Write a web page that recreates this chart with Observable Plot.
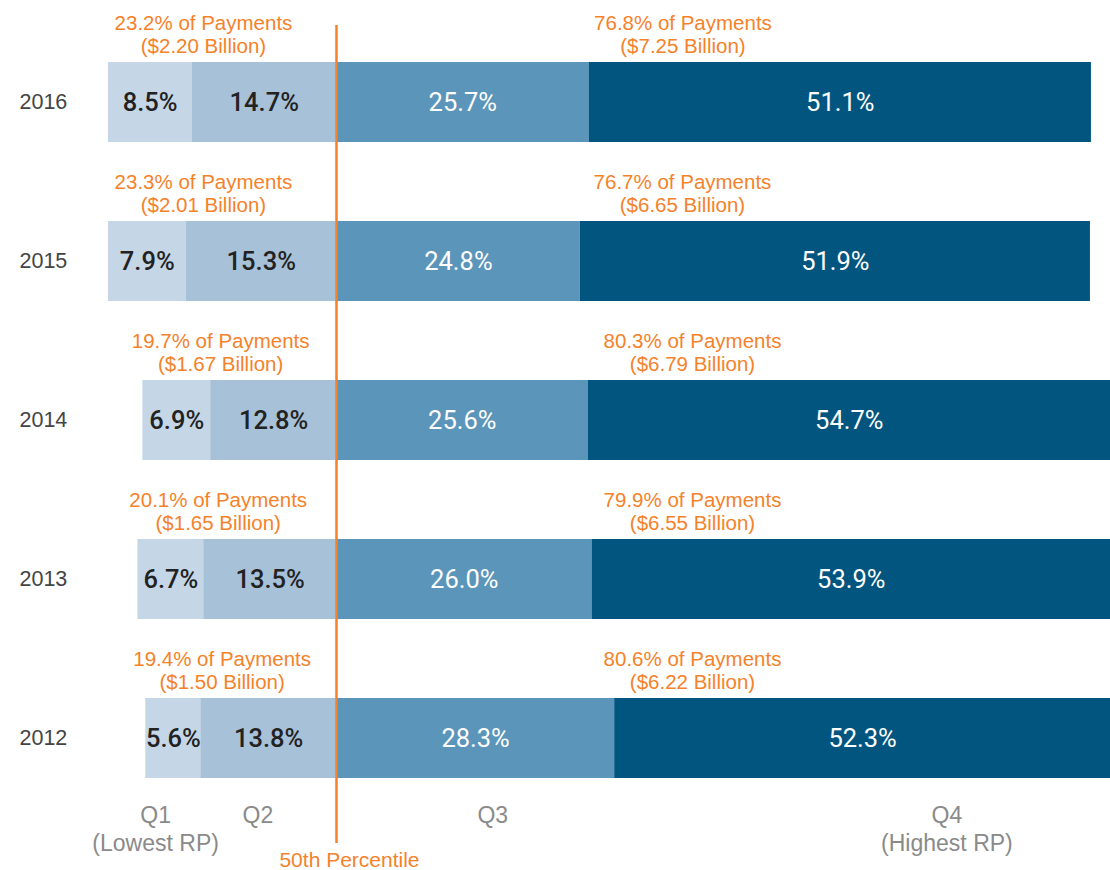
<!DOCTYPE html>
<html><head><meta charset="utf-8">
<script src="https://cdn.jsdelivr.net/npm/d3@7"></script>
<script src="https://cdn.jsdelivr.net/npm/@observablehq/plot@0.6"></script>
<style>body{margin:0;background:#fff} svg{display:block;overflow:hidden}</style>
</head><body><div id="chart"></div>
<script>
const years = ["2016", "2015", "2014", "2013", "2012"];
const q1 = [8.5, 7.9, 6.9, 6.7, 5.6];
const q2 = [14.7, 15.3, 12.8, 13.5, 13.8];
const q3 = [25.7, 24.8, 25.6, 26.0, 28.3];
const q4 = [51.1, 51.9, 54.7, 53.9, 52.3];
const belowPct = [23.2, 23.3, 19.7, 20.1, 19.4];
const belowBillion = [2.20, 2.01, 1.67, 1.65, 1.50];
const abovePct = [76.8, 76.7, 80.3, 79.9, 80.6];
const aboveBillion = [7.25, 6.65, 6.79, 6.55, 6.22];
const quartiles = ["Q1", "Q2", "Q3", "Q4"];
const quartileLabels = ["Q1\n(Lowest RP)", "Q2", "Q3", "Q4\n(Highest RP)"];
const quartileLabelX = [-18.4, -8.0, 15.9, 62.1];
const medianLabel = "50th Percentile";
const colors = ["#c5d7e7", "#a7c1d8", "#5b95ba", "#01557f"];
const orange = "#f5822a";

const xMin = -34.18, xMax = 78.74;

const segments = years.flatMap((y, i) => [
  {year: y, q: "Q1", x1: -(q1[i] + q2[i]), x2: -q2[i], v: q1[i]},
  {year: y, q: "Q2", x1: -q2[i], x2: 0, v: q2[i]},
  {year: y, q: "Q3", x1: 0, x2: q3[i], v: q3[i]},
  {year: y, q: "Q4", x1: q3[i], x2: q3[i] + q4[i], v: q4[i]}
]);
const mid = d => (d.x1 + Math.min(d.x2, xMax)) / 2;
const leftNotes = years.map((y, i) => ({
  year: y, x: -(q1[i] + q2[i]) / 2,
  text: `${belowPct[i].toFixed(1)}% of Payments\n($${belowBillion[i].toFixed(2)} Billion)`
}));
const rightNotes = years.map((y, i) => ({
  year: y, x: Math.min(q3[i] + q4[i], xMax) / 2,
  text: `${abovePct[i].toFixed(1)}% of Payments\n($${aboveBillion[i].toFixed(2)} Billion)`
}));
const qTicks = quartileLabels.map((t, i) => ({x: quartileLabelX[i], text: t}));

const chart = Plot.plot({
  width: 1110, height: 870, margin: 0,
  x: {domain: [xMin, xMax], axis: null},
  y: {type: "band", domain: years, range: [21, 819], paddingInner: 0.5, paddingOuter: 0.25, axis: null},
  color: {domain: quartiles, range: colors},
  style: {fontFamily: "'Liberation Sans', Arial, sans-serif", background: "#fff"},
  marks: [
    Plot.barX(segments, {x1: "x1", x2: "x2", y: "year", fill: "q", clip: true}),
    Plot.text(segments.filter(d => d.q === "Q1" || d.q === "Q2"), {
      x: mid, y: "year", text: d => d.v.toFixed(1) + "%",
      fill: "#222", fontSize: 25.5, fontFamily: "Roboto", fontWeight: 500
    }),
    Plot.text(segments.filter(d => d.q === "Q3" || d.q === "Q4"), {
      x: mid, y: "year", text: d => d.v.toFixed(1) + "%",
      fill: "#fff", fontSize: 25.5, fontFamily: "Roboto", fontWeight: 400
    }),
    Plot.text(years, {
      y: d => d, text: d => d, frameAnchor: "left", dx: 19, textAnchor: "start",
      fontSize: 21.5, fill: "#444"
    }),
    Plot.text(leftNotes, {
      x: "x", y: "year", text: "text", dx: -19, dy: -68.5, lineAnchor: "middle",
      lineHeight: 1.12, fontSize: 20.5, fill: orange
    }),
    Plot.text(rightNotes, {
      x: "x", y: "year", text: "text", dx: -31, dy: -68.5, lineAnchor: "middle",
      lineHeight: 1.12, fontSize: 20.5, fill: orange
    }),
    Plot.ruleX([0], {stroke: orange, strokeWidth: 2.5, insetTop: 25, insetBottom: 27}),
    Plot.text(qTicks, {
      x: "x", text: "text", frameAnchor: "top", lineAnchor: "top", dy: 803,
      lineHeight: 28 / 23, fontSize: 23, fill: "#8a8a8a"
    }),
    Plot.text([medianLabel], {
      x: () => 0, text: d => d, frameAnchor: "top", lineAnchor: "top", dy: 852, dx: 13,
      fontSize: 21, fill: orange
    })
  ]
});
document.getElementById("chart").appendChild(chart);
</script>
</body></html>
